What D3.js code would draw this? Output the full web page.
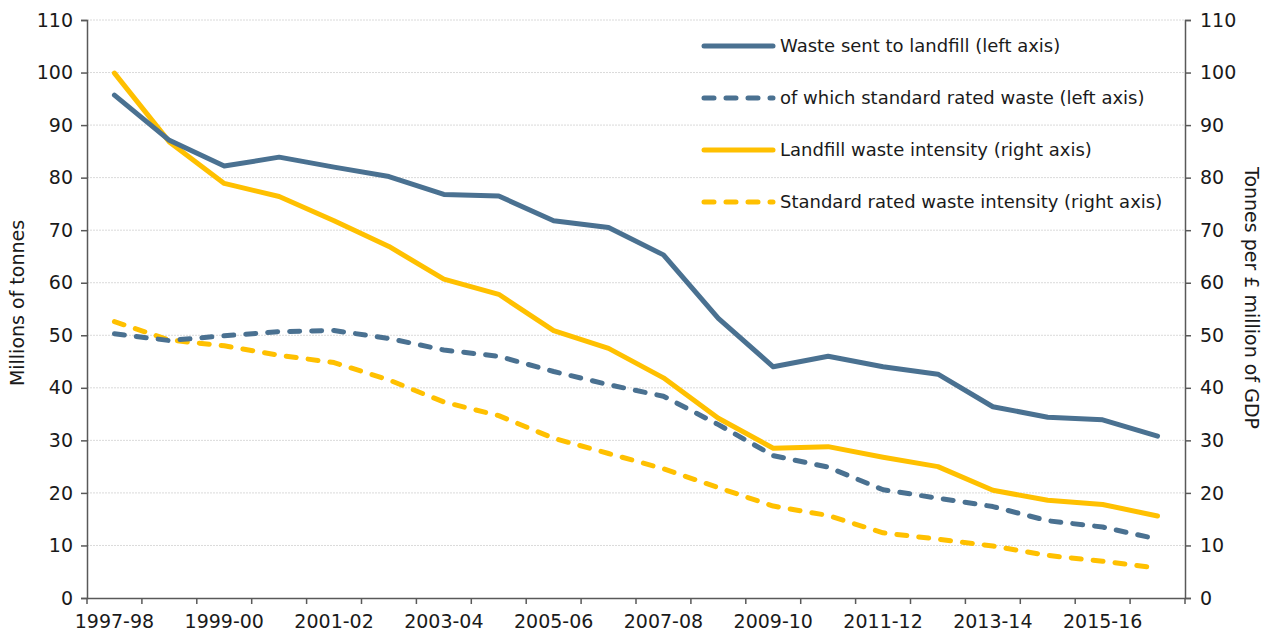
<!DOCTYPE html>
<html>
<head>
<meta charset="utf-8">
<script src="https://cdn.jsdelivr.net/npm/d3@7"></script>
<style>
  html, body { margin: 0; padding: 0; background: #fff; }
  svg { display: block; font-family: "DejaVu Sans", sans-serif; }
</style>
</head>
<body>
<svg id="chart" width="1271" height="637"></svg>
<script>
const categories = ["1997-98","1998-99","1999-00","2000-01","2001-02","2002-03","2003-04","2004-05","2005-06","2006-07",
  "2007-08","2008-09","2009-10","2010-11","2011-12","2012-13","2013-14","2014-15","2015-16","2016-17"];
const tickLabels = ["1997-98","1999-00","2001-02","2003-04","2005-06","2007-08","2009-10","2011-12","2013-14","2015-16"];
const wasteLandfill = [95.7, 87.1, 82.2, 83.9, 82.0, 80.2, 76.8, 76.5, 71.8, 70.5, 65.3, 53.2, 44.0, 46.0, 44.0, 42.6, 36.4, 34.4, 33.9, 30.8];
const standardRated = [50.3, 49.0, 49.9, 50.7, 50.9, 49.4, 47.2, 46.0, 43.1, 40.6, 38.4, 33.0, 27.1, 24.9, 20.6, 19.0, 17.4, 14.7, 13.5, 11.2];
const landfillIntensity = [99.9, 86.8, 78.9, 76.4, 71.8, 66.9, 60.7, 57.8, 50.9, 47.5, 41.9, 34.2, 28.5, 28.8, 26.8, 25.0, 20.5, 18.6, 17.8, 15.6];
const standardIntensity = [52.6, 49.1, 48.0, 46.2, 44.8, 41.5, 37.3, 34.7, 30.4, 27.5, 24.6, 21.0, 17.5, 15.7, 12.4, 11.2, 9.9, 8.1, 7.0, 5.7];
const seriesNames = ["Waste sent to landfill (left axis)", "of which standard rated waste (left axis)",
  "Landfill waste intensity (right axis)", "Standard rated waste intensity (right axis)"];
const yTicks = [0,10,20,30,40,50,60,70,80,90,100,110];

const BLUE = "#4a7191", YELLOW = "#ffc000", AXIS = "#595959", TEXT = "#1a1a1a";
const margin = {left: 87, right: 86, top: 20, bottom: 39};
const W = 1271, H = 637;
const svg = d3.select("#chart");

const x = d3.scaleBand().domain(categories).range([margin.left, W - margin.right]).padding(0);
const yL = d3.scaleLinear().domain([0, 110]).range([H - margin.bottom, margin.top]);
const yR = d3.scaleLinear().domain([0, 110]).range([H - margin.bottom, margin.top]);

// gridlines
svg.append("g").selectAll("line").data(yTicks.filter(d => d > 0)).join("line")
  .attr("x1", margin.left).attr("x2", W - margin.right)
  .attr("y1", d => yL(d)).attr("y2", d => yL(d))
  .attr("stroke", "#dadada").attr("stroke-width", 1).attr("stroke-dasharray", "2,1");

// series
const series = [
  {name: seriesNames[0], values: wasteLandfill, color: BLUE, dash: null, y: yL},
  {name: seriesNames[1], values: standardRated, color: BLUE, dash: "10,12", y: yL},
  {name: seriesNames[2], values: landfillIntensity, color: YELLOW, dash: null, y: yR},
  {name: seriesNames[3], values: standardIntensity, color: YELLOW, dash: "10,12", y: yR}
];
const drawOrder = [3, 2, 1, 0];
drawOrder.forEach(i => {
  const s = series[i];
  const line = d3.line().x((d, j) => x(categories[j]) + x.bandwidth() / 2).y(d => s.y(d));
  svg.append("path").datum(s.values)
    .attr("d", line).attr("fill", "none")
    .attr("stroke", s.color).attr("stroke-width", 5)
    .attr("stroke-linejoin", "round").attr("stroke-linecap", "round")
    .attr("stroke-dasharray", s.dash);
});

// axes
const fontSize = "19px";
const leftAxis = svg.append("g").attr("transform", `translate(${margin.left},0)`)
  .call(d3.axisLeft(yL).tickValues(yTicks).tickSize(6).tickPadding(8).tickFormat(d3.format("d")));
const rightAxis = svg.append("g").attr("transform", `translate(${W - margin.right},0)`)
  .call(d3.axisRight(yR).tickValues(yTicks).tickSize(6).tickPadding(9).tickFormat(d3.format("d")));
const bottomAxis = svg.append("g").attr("transform", `translate(0,${H - margin.bottom})`)
  .call(d3.axisBottom(x).tickValues(tickLabels).tickSize(0).tickPadding(17));
// band boundary ticks
const bounds = categories.map(c => x(c)).concat([x(categories[categories.length - 1]) + x.bandwidth()]);
svg.append("g").selectAll("line").data(bounds).join("line")
  .attr("x1", d => d).attr("x2", d => d)
  .attr("y1", H - margin.bottom).attr("y2", H - margin.bottom + 6)
  .attr("stroke", AXIS).attr("stroke-width", 1.5);

[leftAxis, rightAxis, bottomAxis].forEach(g => {
  g.attr("font-family", null);
  g.select(".domain").attr("stroke", AXIS).attr("stroke-width", 1.5);
  g.selectAll(".tick line").attr("stroke", AXIS).attr("stroke-width", 1.5);
  g.selectAll(".tick text").attr("fill", TEXT).style("font-size", fontSize);
});

// axis titles
const midY = (margin.top + H - margin.bottom) / 2;
svg.append("text").attr("transform", `translate(24,${midY - 6}) rotate(-90)`)
  .attr("text-anchor", "middle").attr("fill", TEXT).style("font-size", "19px").text("Millions of tonnes");
svg.append("text").attr("transform", `translate(1245,${midY - 11}) rotate(90)`)
  .attr("text-anchor", "middle").attr("fill", TEXT).style("font-size", "19px").text("Tonnes per £ million of GDP");

// legend
const legendY = [46, 98, 150, 202];
const lg = svg.append("g");
series.forEach((s, i) => {
  lg.append("line").attr("x1", 704).attr("x2", 773).attr("y1", legendY[i]).attr("y2", legendY[i])
    .attr("stroke", s.color).attr("stroke-width", 5).attr("stroke-linecap", "round")
    .attr("stroke-dasharray", s.dash);
  lg.append("text").attr("x", 780).attr("y", legendY[i]).attr("dy", "0.35em")
    .attr("fill", TEXT).style("font-size", "18px").text(s.name);
});
</script>
</body>
</html>
